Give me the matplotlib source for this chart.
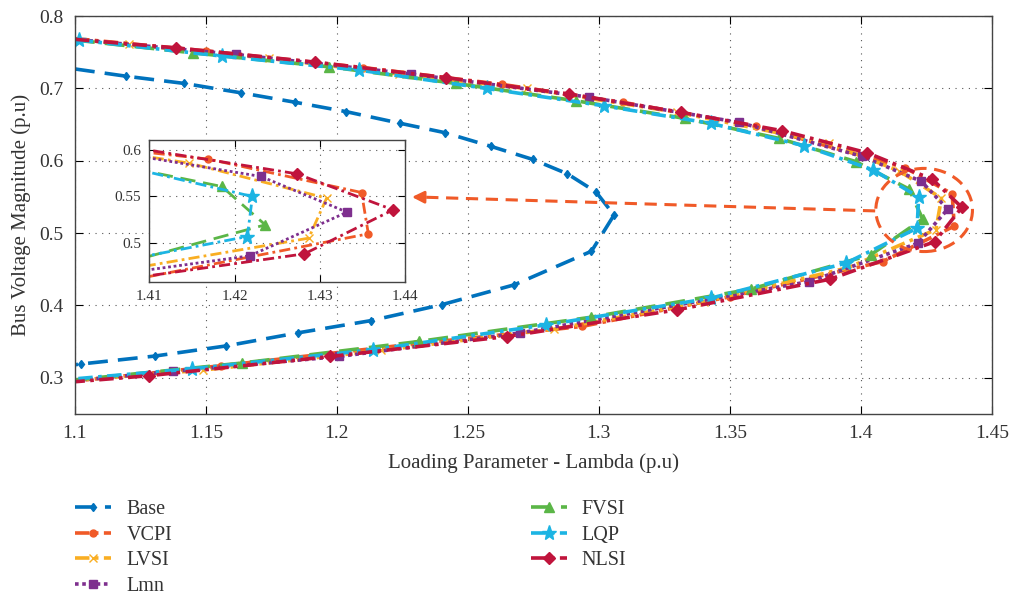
import matplotlib
matplotlib.use("Agg")
import matplotlib.pyplot as plt
from matplotlib.patches import Ellipse

plt.rcParams['font.family'] = ['Liberation Serif', 'DejaVu Serif']

# ---- data ----
base_x = [1.1, 1.1195, 1.1417, 1.1634, 1.184, 1.2035, 1.224, 1.2411, 1.2588, 1.2747, 1.288, 1.2989, 1.3058,
          1.2972, 1.2677, 1.240, 1.213, 1.185, 1.1577, 1.1305, 1.1023, 1.1]
base_y = [0.727, 0.717, 0.707, 0.694, 0.681, 0.668, 0.652, 0.639, 0.620, 0.602, 0.582, 0.557, 0.525,
          0.475, 0.4285, 0.401, 0.379, 0.362, 0.344, 0.330, 0.319, 0.318]

vcpi_x = [1.1, 1.150, 1.210, 1.2632, 1.3093, 1.360, 1.4169, 1.4349, 1.4357,
          1.4083, 1.350, 1.2935, 1.230, 1.1557, 1.1]
vcpi_y = [0.769, 0.752, 0.729, 0.7056, 0.6808, 0.648, 0.5904, 0.5543, 0.5097,
          0.4606, 0.412, 0.3709, 0.347, 0.3166, 0.2955]

lvsi_x = [1.1, 1.1207, 1.1742, 1.2238, 1.2724, 1.330, 1.3879, 1.4147, 1.4308,
          1.4287, 1.395, 1.340, 1.283, 1.2168, 1.1487, 1.1]
lvsi_y = [0.768, 0.7609, 0.7416, 0.7199, 0.700, 0.667, 0.6242, 0.586, 0.5482,
          0.505, 0.452, 0.405, 0.3673, 0.3377, 0.3105, 0.2965]

lmn_x = [1.1, 1.1614, 1.2284, 1.2963, 1.3537, 1.4006, 1.4231, 1.4332,
         1.4218, 1.3803, 1.270, 1.2009, 1.1373, 1.1]
lmn_y = [0.768, 0.7471, 0.720, 0.688, 0.653, 0.606, 0.5716, 0.5331,
         0.486, 0.433, 0.362, 0.3294, 0.3087, 0.296]

fvsi_x = [1.1, 1.1449, 1.197, 1.2454, 1.2912, 1.3328, 1.3688, 1.3981, 1.4185, 1.4236,
          1.4038, 1.358, 1.297, 1.2314, 1.1637, 1.1]
fvsi_y = [0.767, 0.7493, 0.730, 0.707, 0.683, 0.6587, 0.631, 0.5989, 0.5608, 0.5194,
          0.470, 0.4225, 0.3837, 0.3502, 0.3203, 0.297]

lqp_x = [1.1014, 1.1561, 1.2085, 1.2572, 1.302, 1.3427, 1.3784, 1.4048, 1.4221,
         1.4215, 1.3943, 1.3427, 1.28, 1.2136, 1.1447, 1.1]
lqp_y = [0.7669, 0.7448, 0.7254, 0.700, 0.676, 0.6518, 0.6208, 0.5873, 0.550,
         0.5068, 0.4584, 0.410, 0.3732, 0.3387, 0.3124, 0.2985]

nlsi_x = [1.1, 1.1385, 1.1916, 1.2416, 1.2887, 1.3315, 1.370, 1.4025, 1.4273, 1.4386,
          1.4282, 1.3883, 1.3298, 1.2649, 1.1974, 1.1281, 1.1]
nlsi_y = [0.768, 0.7562, 0.7365, 0.715, 0.6923, 0.667, 0.6416, 0.611, 0.5745, 0.5356,
          0.4881, 0.4363, 0.3939, 0.357, 0.3294, 0.3028, 0.2945]

dashdot = (0, (4, 1.5, 1, 1.5))
series = [
    ("Base", base_x, base_y, "#0072BD", (0, (5.5, 2.8)), "d", 4.5),
    ("VCPI", vcpi_x, vcpi_y, "#F05A28", dashdot, "o", 5),
    ("LVSI", lvsi_x, lvsi_y, "#F9AE22", dashdot, "x", 6),
    ("Lmn", lmn_x, lmn_y, "#7E2F8E", (0, (1, 1)), "s", 5.5),
    ("FVSI", fvsi_x, fvsi_y, "#5BB647", (0, (5.5, 2.8)), "^", 7),
    ("LQP", lqp_x, lqp_y, "#1CB4E3", dashdot, "*", 11),
    ("NLSI", nlsi_x, nlsi_y, "#C0143C", dashdot, "D", 6.5),
]

fig = plt.figure(figsize=(10.13, 5.99), dpi=100)
ax = fig.add_axes([0.074, 0.309, 0.905, 0.664])


def draw(a, lw):
    for name, xs, ys, c, ls, mk, ms in series:
        every = slice(1, -1) if name != "LQP" else slice(0, -1)
        a.plot(xs, ys, color=c, linestyle=ls, linewidth=lw, marker=mk, markersize=ms,
               markevery=every, markeredgecolor=c, markerfacecolor=c, label=name)


draw(ax, 2.6)
ax.set_xlim(1.1, 1.45)
ax.set_ylim(0.25, 0.8)
ax.set_xticks([1.1, 1.15, 1.2, 1.25, 1.3, 1.35, 1.4, 1.45])
ax.set_xticklabels(["1.1", "1.15", "1.2", "1.25", "1.3", "1.35", "1.4", "1.45"])
ax.set_yticks([0.3, 0.4, 0.5, 0.6, 0.7, 0.8])
ax.set_yticklabels(["0.3", "0.4", "0.5", "0.6", "0.7", "0.8"])
ax.grid(True, linestyle=(0, (1, 5)), color="#555555", linewidth=0.8)
ax.tick_params(direction="in", top=True, right=True, labelsize=14, length=6, pad=8,
               labelcolor="#333333")
for s in ax.spines.values():
    s.set_color("#444444")
    s.set_linewidth(1.0)
ax.set_xlabel("Loading Parameter - Lambda (p.u)", fontsize=15, color="#333333", labelpad=8)
ax.set_ylabel("Bus Voltage Magnitude (p.u)", fontsize=15, color="#333333", labelpad=6)

# ellipse highlighting the nose and arrow to the inset
ax.add_patch(Ellipse((1.4242, 0.532), 0.0369, 0.115, fill=False, edgecolor="#F05A28",
                     linestyle=(0, (4, 2.5)), linewidth=2.2, zorder=10))
ax.plot([1.4055, 1.2330], [0.5307, 0.5497], color="#F05A28", linestyle=(0, (4, 2.5)),
        linewidth=2.2, zorder=10)
ax.annotate("", xy=(1.2276, 0.5500), xytext=(1.2345, 0.5496),
            arrowprops=dict(arrowstyle="-|>", color="#F05A28", lw=2, mutation_scale=18),
            zorder=11)

# inset
axin = fig.add_axes([0.1474, 0.5297, 0.2524, 0.2366])
draw(axin, 2.0)
axin.set_xlim(1.41, 1.44)
axin.set_ylim(0.458, 0.611)
axin.set_xticks([1.41, 1.42, 1.43, 1.44])
axin.set_xticklabels(["1.41", "1.42", "1.43", "1.44"])
axin.set_yticks([0.5, 0.55, 0.6])
axin.set_yticklabels(["0.5", "0.55", "0.6"])
axin.grid(True, linestyle=(0, (1, 5)), color="#555555", linewidth=0.8)
axin.tick_params(direction="in", top=True, right=True, labelsize=11, length=5, pad=6,
                 labelcolor="#333333")
for s in axin.spines.values():
    s.set_color("#444444")
    s.set_linewidth(1.0)
axin.set_facecolor("white")

handles, labels = ax.get_legend_handles_labels()
fig.legend(handles, labels, loc="upper left", bbox_to_anchor=(75 / 1013, 1 - 500 / 599),
           ncol=2, frameon=False, fontsize=14.5, handlelength=1.8, columnspacing=17.8,
           labelspacing=0.32, handletextpad=0.75, borderpad=0, borderaxespad=0,
           labelcolor="#333333")

fig.savefig("out.png", dpi=100)
